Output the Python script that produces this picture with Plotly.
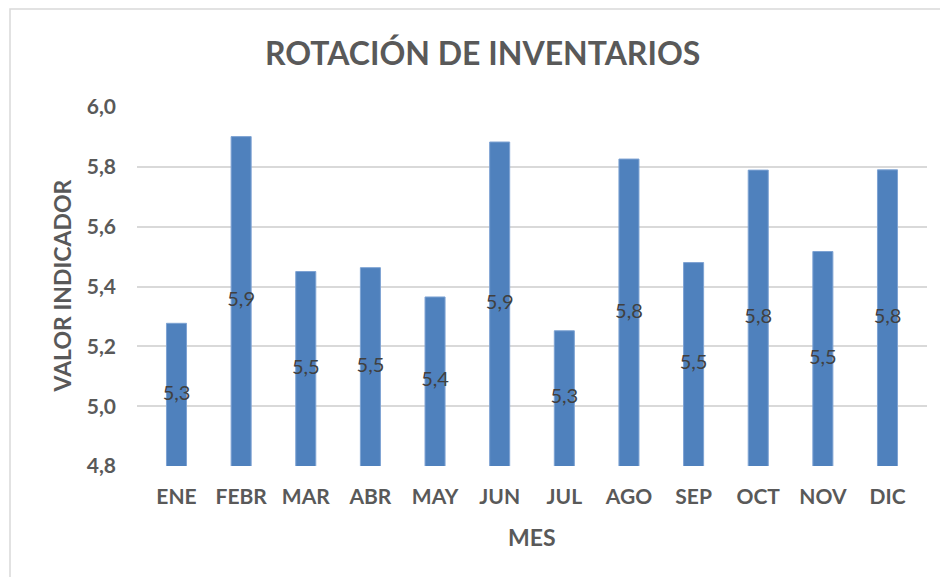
import plotly.graph_objects as go

meses = ["ENE", "FEBR", "MAR", "ABR", "MAY", "JUN", "JUL", "AGO", "SEP", "OCT", "NOV", "DIC"]
valores = [5.277, 5.901, 5.450, 5.463, 5.365, 5.883, 5.252, 5.826, 5.480, 5.789, 5.517, 5.790]
y_min, y_max = 4.8, 6.0
y_ticks = [4.8, 5.0, 5.2, 5.4, 5.6, 5.8, 6.0]

# la página añade 8px de margen al cuerpo
W, H = 940, 569
L, R, T, B = 129, 21, 99, 111
pw, ph = W - L - R, H - T - B

fuente = "Lato"
gris = "#595959"

etiquetas = [f"{v:.1f}".replace(".", ",") for v in valores]
centros = [(y_min + v) / 2 for v in valores]

fig = go.Figure()
fig.add_trace(
    go.Bar(
        x=meses,
        y=valores,
        width=0.31,
        marker=dict(color="#4F81BD", line=dict(color="#7EA3D3", width=1)),
        hoverinfo="x+y",
    )
)
fig.add_trace(
    go.Scatter(
        x=meses,
        y=centros,
        mode="text",
        text=etiquetas,
        textposition="middle center",
        textfont=dict(family=fuente, size=20, color="#404040"),
        hoverinfo="skip",
        cliponaxis=False,
    )
)

fig.update_layout(
    width=W,
    height=H,
    margin=dict(l=L, r=R, t=T, b=B),
    plot_bgcolor="white",
    paper_bgcolor="white",
    separators=", ",
    showlegend=False,
    title=dict(
        text="<b>ROTACIÓN DE INVENTARIOS</b>",
        x=0.505,
        xanchor="center",
        y=1 - 46 / H,
        yanchor="middle",
        font=dict(family=fuente, size=32, color=gris),
    ),
    font=dict(family=fuente, color=gris),
    xaxis=dict(
        automargin=False,
        showgrid=False,
        showline=False,
        ticks="",
        tickfont=dict(family=fuente, size=21, color=gris, weight="bold"),
        ticklabelstandoff=16,
    ),
    yaxis=dict(
        automargin=False,
        range=[y_min, y_max],
        tickvals=y_ticks,
        tickformat=".1f",
        showgrid=True,
        gridcolor="#D9D9D9",
        gridwidth=1.5,
        zeroline=False,
        showline=False,
        tickfont=dict(family=fuente, size=21, color=gris, weight="bold"),
        ticklabelstandoff=20,
    ),
    annotations=[
        dict(
            text="<b>VALOR INDICADOR</b>",
            xref="paper",
            yref="paper",
            x=(53 - L) / pw,
            y=0.5,
            textangle=-90,
            showarrow=False,
            xanchor="center",
            yanchor="middle",
            font=dict(family=fuente, size=23, color=gris),
        ),
        dict(
            text="<b>MES</b>",
            xref="paper",
            yref="paper",
            x=0.5,
            y=-(529 - (H - B)) / ph,
            showarrow=False,
            xanchor="center",
            yanchor="middle",
            font=dict(family=fuente, size=23, color=gris),
        ),
    ],
)

# borde del área del gráfico
fig.add_shape(
    type="rect",
    xref="paper",
    yref="paper",
    x0=(2 - L) / pw,
    x1=(W - 1 - L) / pw,
    y0=-(B + 10) / ph,
    y1=1 + (T - 1) / ph,
    line=dict(color="#D9D9D9", width=1.5),
    layer="below",
)

fig.write_html("out.html")
